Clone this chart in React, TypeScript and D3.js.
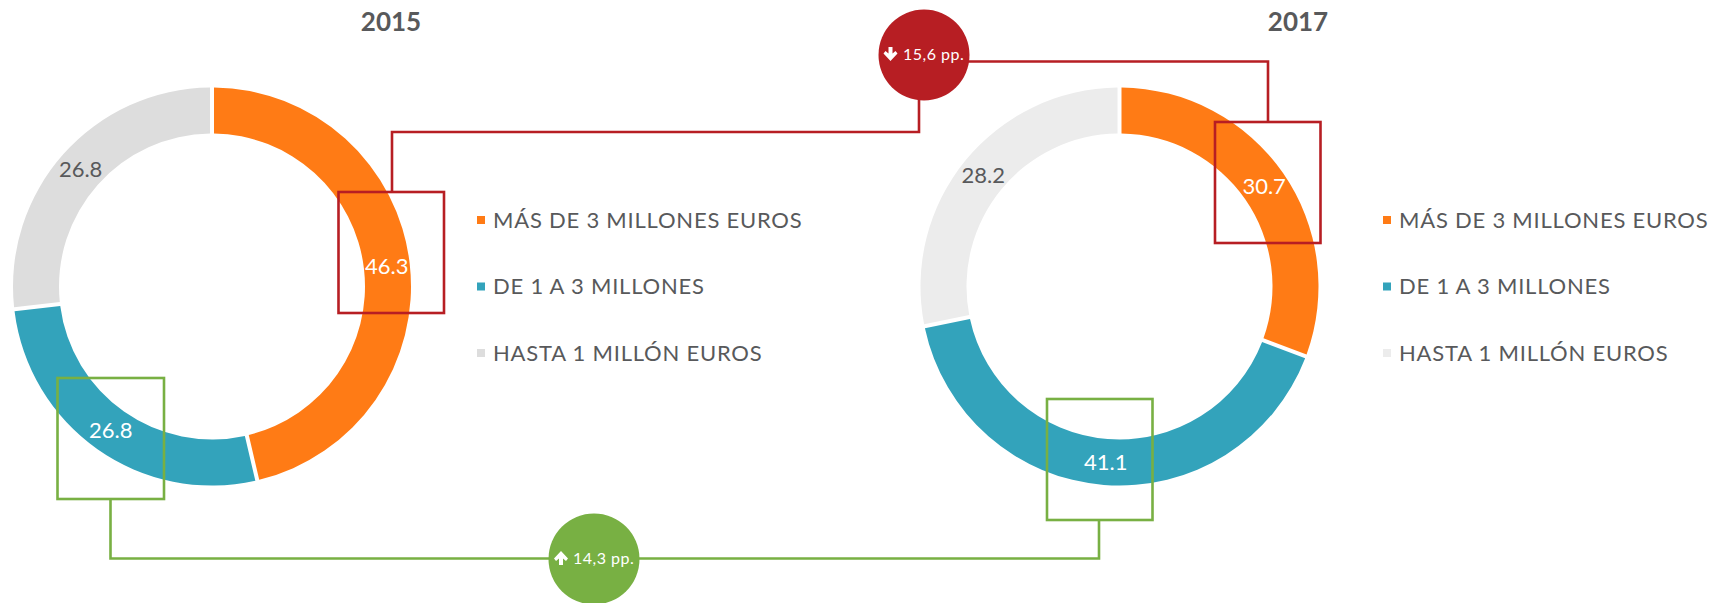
import React from 'react'
import * as d3 from 'd3'

const categories = ['MÁS DE 3 MILLONES EUROS', 'DE 1 A 3 MILLONES', 'HASTA 1 MILLÓN EUROS']
const values2015 = [46.3, 26.8, 26.8]
const values2017 = [30.7, 41.1, 28.2]
const colors2015 = ['#ff7b15', '#33a3bb', '#dddddd']
const colors2017 = ['#ff7b15', '#33a3bb', '#ececec']
const labelColors = ['#ffffff', '#ffffff', '#58595b']

const W = 1714, H = 603
const RED = '#b71e23', GREEN = '#78b043', TEXT = '#58595b'
const FONT = 'Lato, sans-serif'
const cy = 286.5, outer = 199, inner = 153

const pie = d3.pie<number>().sort(null).value(d => d)
const arc = d3.arc<d3.PieArcDatum<number>>()
  .innerRadius(inner).outerRadius(outer).padRadius(100).padAngle(0.04)

const Donut = ({ cx, title, titleX, values, colors, legendX }: any) => {
  const slices = pie(values)
  const legendY = d3.scalePoint<string>().domain(categories).range([220, 353])
  return (
    <g>
      <text x={titleX} y={31} textAnchor="middle" fontSize={26} fontWeight={700} fill={TEXT}>{title}</text>
      <g transform={`translate(${cx},${cy})`}>
        {slices.map((s, i) => <path key={i} d={arc(s) as string} fill={colors[i]} />)}
        {slices.map((s, i) => {
          const [x, y] = arc.centroid(s)
          return <text key={i} x={x} y={y} dy="0.36em" textAnchor="middle" fontSize={22} fill={labelColors[i]}>{values[i].toFixed(1)}</text>
        })}
      </g>
      {categories.map((c, i) => (
        <g key={c}>
          <rect x={legendX} y={(legendY(c) as number) - 4} width={8} height={8} fill={colors[i]} />
          <text x={legendX + 16} y={legendY(c) as number} dy="0.36em" fontSize={22} letterSpacing={0.78} fill={TEXT}>{c}</text>
        </g>
      ))}
    </g>
  )
}

const Box = ({ x0, x1, y0, y1, color }: any) => (
  <rect x={x0} y={y0} width={x1 - x0} height={y1 - y0} fill="none" stroke={color} strokeWidth={2.6} />
)

const line = d3.line()

const Badge = ({ cx, cy, text, up, color, arrowX, textX }: any) => {
  const s = up ? -1 : 1
  const ay = cy - 1
  // flecha del circulo, apunta abajo o arriba segun up
  const arrow = line([
    [arrowX - 2, ay - 7 * s], [arrowX + 2, ay - 7 * s], [arrowX + 2, ay - 0.5 * s], [arrowX + 5, ay - 3 * s],
    [arrowX + 7, ay - 0.5 * s], [arrowX, ay + 7 * s], [arrowX - 7, ay - 0.5 * s], [arrowX - 5, ay - 3 * s], [arrowX - 2, ay - 0.5 * s],
  ]) + 'Z'
  return (
    <g>
      <circle cx={cx} cy={cy} r={45.5} fill={color} />
      <path d={arrow} fill="#fff" />
      <text x={textX} y={cy - 1} dy="0.36em" fontSize={16} letterSpacing={0.5} fill="#fff">{text}</text>
    </g>
  )
}

const App = () => (
  <svg width={W} height={H} viewBox={`0 0 ${W} ${H}`} fontFamily={FONT}
    style={{ position: 'absolute', left: 0, top: 0, display: 'block', background: '#fff' }}>
    <Donut cx={212} title="2015" titleX={391} values={values2015} colors={colors2015} legendX={477} />
    <Donut cx={1119.5} title="2017" titleX={1298} values={values2017} colors={colors2017} legendX={1383} />

    <path d="M392,192V132H919V90" fill="none" stroke={RED} strokeWidth={2.6} />
    <path d="M950,61.5H1268V122" fill="none" stroke={RED} strokeWidth={2.6} />
    <path d="M110.5,499V558.5H1099V520" fill="none" stroke={GREEN} strokeWidth={2.6} />

    <Box x0={338.5} x1={444} y0={192} y1={313} color={RED} />
    <Box x0={1215} x1={1320.5} y0={122} y1={243} color={RED} />
    <Box x0={57.5} x1={164} y0={378} y1={499} color={GREEN} />
    <Box x0={1047} x1={1152.5} y0={399} y1={520} color={GREEN} />

    <Badge cx={924} cy={55} text="15,6 pp." up={false} color={RED} arrowX={890.5} textX={903} />
    <Badge cx={594} cy={559} text="14,3 pp." up={true} color={GREEN} arrowX={561} textX={573} />
  </svg>
)

export default App
